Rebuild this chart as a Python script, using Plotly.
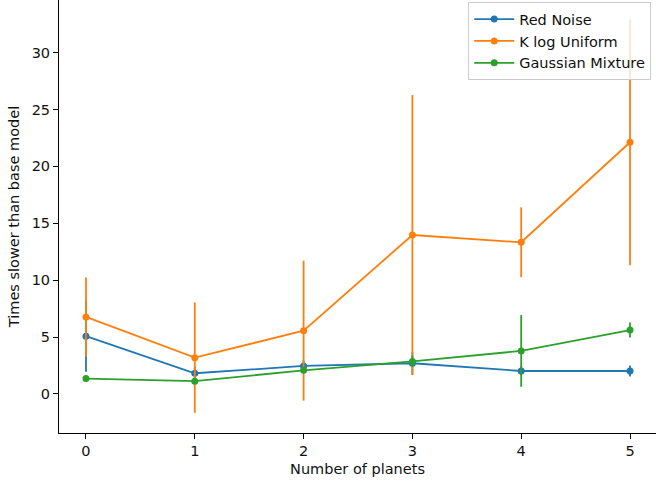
import plotly.graph_objects as go

planets = [0, 1, 2, 3, 4, 5]

red_noise = [5.08, 1.82, 2.46, 2.70, 2.02, 2.02]
red_noise_err = [3.12, 0.6, 0.5, 1.0, 0.4, 0.48]

k_log_uniform = [6.77, 3.19, 5.56, 13.97, 13.33, 22.12]
k_log_uniform_err = [3.47, 4.85, 6.15, 12.3, 3.07, 10.8]

gaussian_mixture = [1.35, 1.12, 2.08, 2.86, 3.78, 5.62]
gaussian_mixture_err = [0.15, 0.15, 0.2, 0.5, 3.15, 0.66]

series = [
    ("Red Noise", red_noise, red_noise_err, "#1f77b4"),
    ("K log Uniform", k_log_uniform, k_log_uniform_err, "#ff7f0e"),
    ("Gaussian Mixture", gaussian_mixture, gaussian_mixture_err, "#2ca02c"),
]

fig = go.Figure()
for name, vals, errs, color in series:
    fig.add_trace(go.Scatter(
        x=planets, y=vals, name=name, mode="lines+markers",
        line=dict(color=color, width=1.8),
        marker=dict(color=color, size=7),
        error_y=dict(type="data", array=errs, visible=True, color=color,
                     thickness=1.8, width=0),
    ))

font = dict(family="DejaVu Sans", size=14.5, color="#111111")
fig.update_layout(
    width=656, height=486,
    margin=dict(l=59, r=0, t=0, b=53),
    plot_bgcolor="white", paper_bgcolor="white",
    font=font,
    showlegend=True,
    legend=dict(x=0.992, xanchor="right", y=0.995, yanchor="top",
                bgcolor="rgba(255,255,255,0.8)", bordercolor="#cccccc",
                borderwidth=1, font=dict(family="DejaVu Sans", size=14.5),
                tracegroupgap=0, itemwidth=40),
)
fig.update_xaxes(
    range=[-0.248, 5.239], tickvals=planets, ticktext=[str(p) for p in planets],
    showline=True, linecolor="black", linewidth=1, ticks="outside",
    ticklen=5, tickcolor="black", showgrid=False, zeroline=False,
    title=dict(text="Number of planets", font=font, standoff=5),
)
fig.update_yaxes(
    range=[-3.43, 34.62], tickvals=[0, 5, 10, 15, 20, 25, 30],
    showline=True, linecolor="black", linewidth=1, ticks="outside",
    ticklen=5, tickcolor="black", showgrid=False, zeroline=False,
    title=dict(text="Times slower than base model", font=font, standoff=8),
)

fig.write_html("out.html", config={"displayModeBar": False},
               post_script="document.body.style.margin='0';")
